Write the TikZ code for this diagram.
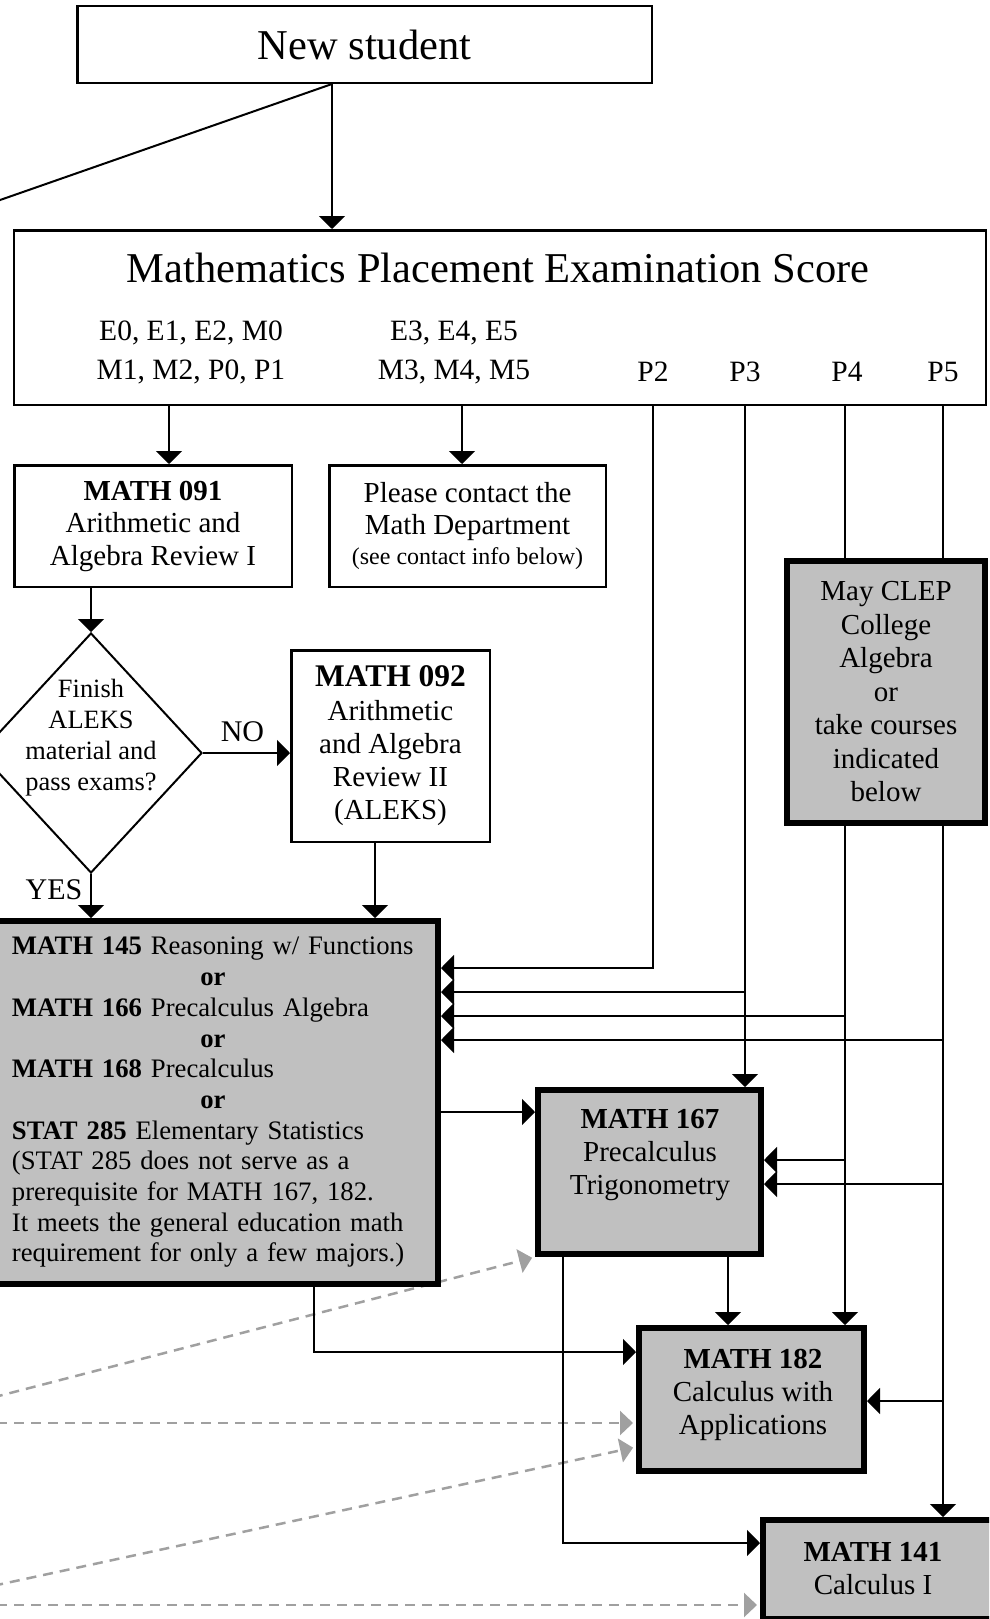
\documentclass[tikz,border=0pt]{standalone}
\usepackage{fontspec}
\setmainfont{Liberation Serif}
\usetikzlibrary{arrows.meta,shapes.geometric,backgrounds}
\definecolor{silver}{RGB}{192,192,192}
\definecolor{dashgray}{RGB}{160,160,160}
\newcommand{\fsz}[2]{\fontsize{#1}{#2}\selectfont}

\begin{document}
\begin{tikzpicture}[
  x=1pt, y=-1pt,
  every node/.style={font=\fsz{29}{33}, inner sep=0pt},
  headfont/.style={font=\fsz{42.5}{48}},
  scorefont/.style={font=\fsz{29.5}{39}, align=center},
  box/.style={draw, line width=2.5pt, align=center},
  course/.style={draw, line width=6pt, fill=silver, align=center},
  arrow/.style={-{Triangle[length=13pt,width=26pt]}, line width=2pt},
  link/.style={line width=2pt},
  dasharrow/.style={-{Triangle[length=13pt,width=24pt]}, line width=2.5pt, draw=dashgray, dash pattern=on 10pt off 7pt, shorten >=3pt}
]
\useasboundingbox (0,0) rectangle (989,1619);
\clip (0,0) rectangle (989,1619);

% top
\node[box, headfont, minimum width=574.5pt, minimum height=76.5pt] (newst) at (364.5,44.5) {New student};
\node[box, minimum width=971.8pt, minimum height=174.5pt] (score) at (499.9,317.5) {};
\node[headfont] (title) at (498,268) {Mathematics Placement Examination Score};
\node[scorefont] (grpE) at (191,352) {E0, E1, E2, M0\\M1, M2, P0, P1};
\node[scorefont] (grpM) at (454,352) {E3, E4, E5\\M3, M4, M5};
\node[scorefont, anchor=base] (p2) at (653,381) {P2};
\node[scorefont, anchor=base] (p3) at (745,381) {P3};
\node[scorefont, anchor=base] (p4) at (847,381) {P4};
\node[scorefont, anchor=base] (p5) at (943,381) {P5};

% remedial
\node[box, minimum width=277.5pt, minimum height=121.5pt, font=\fsz{29}{32.5}] (m091) at (153,526) {\textbf{MATH 091}\\Arithmetic and\\Algebra Review I};
\node[box, minimum width=276.5pt, minimum height=121.5pt, font=\fsz{29}{32.5}] (contact) at (467.5,526) {Please contact the\\Math Department\\[-2.5pt]{\fsz{24}{30}(see contact info below)}};
\node[draw, diamond, line width=2pt, minimum width=222pt, minimum height=240pt] (ask) at (91,753) {};
\node[font=\fsz{26.4}{31}, align=center] (askt) at (91,738) {Finish\\ALEKS\\material and\\pass exams?};
\node[box, minimum width=198.5pt, minimum height=191.5pt, font=\fsz{29}{33.25}] (m092) at (390.5,746) {{\fsz{31.5}{33.25}\bfseries MATH 092}\\Arithmetic\\and Algebra\\Review II\\(ALEKS)};
\node[font=\fsz{30}{34}] (no) at (242.5,732) {NO};
\node[font=\fsz{30}{34}] (yes) at (54,890) {YES};

% courses
\node[course, minimum width=198pt, minimum height=262pt, font=\fsz{29}{33.5}] (clep) at (886,692) {May CLEP\\College\\Algebra\\or\\take courses\\indicated\\below};
\node[course, minimum width=450pt, minimum height=363pt, text width=402pt, align=left, font=\fsz{26.7}{30.7}] (m145) at (213,1102.5) {%
\textbf{MATH 145} Reasoning w/ Functions\\
\makebox[\linewidth]{\textbf{or}}\\
\textbf{MATH 166} Precalculus Algebra\\
\makebox[\linewidth]{\textbf{or}}\\
\textbf{MATH 168} Precalculus\\
\makebox[\linewidth]{\textbf{or}}\\
\textbf{STAT 285} Elementary Statistics\\
(STAT 285 does not serve as a\\
prerequisite for MATH 167, 182.\\
It meets the general education math\\
requirement for only a few majors.)};
\node[course, minimum width=223pt, minimum height=164pt] (m167) at (649.5,1172) {};
\node[align=center] (m167t) at (650,1155) {\textbf{MATH 167}\\Precalculus\\Trigonometry};
\node[course, minimum width=225pt, minimum height=143pt] (m182) at (751.5,1399.5) {};
\node[align=center] (m182t) at (753,1395) {\textbf{MATH 182}\\Calculus with\\Applications};
\node[course, minimum width=234pt, minimum height=99pt] (m141) at (880,1569.5) {};
\node[align=center] (m141t) at (873,1569) {\textbf{MATH 141}\\Calculus I};

% columns and joints
\coordinate (stem) at (332,0);
\coordinate (offA) at (-60,221);
\coordinate (colA) at (169,0);
\coordinate (colB) at (462,0);
\coordinate (col092) at (375,0);
\coordinate (jP2) at (653,968);
\coordinate (jP3) at (745,992);
\coordinate (jP4) at (845,1016);
\coordinate (jP5) at (943,1040);
\coordinate (kA) at (0,1160);
\coordinate (kB) at (0,1184);
\coordinate (kC) at (0,1401);
\coordinate (kD) at (0,1112);
\coordinate (kE) at (314,1352);
\coordinate (kF) at (563,1543);
\coordinate (kG) at (728,0);

\draw[link] (newst.south -| stem) -- (offA);
\draw[arrow] (newst.south -| stem) -- (score.north -| stem);
\draw[arrow] (score.south -| colA) -- (m091.north -| colA);
\draw[arrow] (score.south -| colB) -- (contact.north -| colB);
\draw[arrow] (m091.south -| ask.north) -- (ask.north);
\draw[arrow] (ask.east) -- (ask.east -| m092.west);
\draw[arrow] (ask.south) -- (m145.north -| ask.south);
\draw[arrow] (m092.south -| col092) -- (m145.north -| col092);

% placement P2..P5
\draw[arrow] (score.south -| jP2) |- (m145.east |- jP2);
\draw[arrow] (score.south -| jP3) |- (m145.east |- jP3);
\draw[arrow] (jP3) -- (m167.north -| jP3);
\draw[link] (score.south -| jP4) -- (clep.north -| jP4);
\draw[link] (score.south -| jP5) -- (clep.north -| jP5);
\draw[arrow] (clep.south -| jP4) -- (m182.north -| jP4);
\draw[arrow] (clep.south -| jP5) -- (m141.north -| jP5);
\draw[arrow] (jP4) -- (m145.east |- jP4);
\draw[arrow] (jP5) -- (m145.east |- jP5);
\draw[arrow] (jP4 |- kA) -- (m167.east |- kA);
\draw[arrow] (jP5 |- kB) -- (m167.east |- kB);
\draw[arrow] (jP5 |- kC) -- (m182.east |- kC);

% between courses
\draw[arrow] (m145.east |- kD) -- (m167.west |- kD);
\draw[arrow] (m145.south -| kE) |- (m182.west |- kE);
\draw[arrow] (m167.south -| kF) |- (m141.west |- kF);
\draw[arrow] (m167.south -| kG) -- (m182.north -| kG);

% incoming from the left
\coordinate (dA) at (-40,1406);
\coordinate (dB) at (-20,1423);
\coordinate (dC) at (-40,1593);
\coordinate (dD) at (-20,1605);
\begin{pgfonlayer}{background}
\clip (0,0) rectangle (989,1619);
\draw[dasharrow] (dA) -- (m167.south west);
\draw[dasharrow] (dB) -- (m182.west |- dB);
\draw[dasharrow] (dC) -- ([yshift=-47.5pt]m182.west);
\draw[dasharrow] (dD) -- (m141.west |- dD);
\end{pgfonlayer}
\end{tikzpicture}
\end{document}
